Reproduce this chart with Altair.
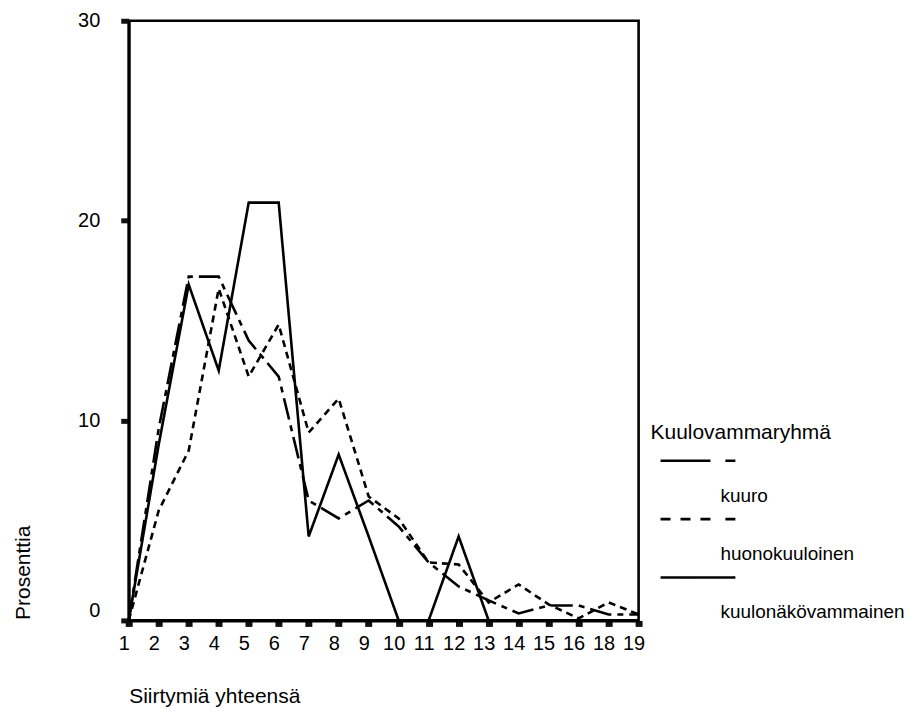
import altair as alt
import pandas as pd

# ---- data ----
categories = ["1", "2", "3", "4", "5", "6", "7", "8", "9", "10",
              "11", "12", "13", "14", "15", "16", "18", "19"]
series_names = ["kuuro", "huonokuuloinen", "kuulonäkövammainen"]
kuuro = [0, 9.6, 17.2, 17.2, 14.0, 12.2, 6.0, 5.1, 6.0, 4.7,
         2.9, 1.7, 1.0, 0.35, 0.75, 0.75, 0.3, 0.3]
huonokuuloinen = [0, 5.5, 8.5, 16.6, 12.2, 14.8, 9.4, 11.1, 6.2, 5.1,
                  2.9, 2.8, 0.9, 1.8, 0.8, 0.1, 0.9, 0.3]
kuulonakovammainen = [0, 8.8, 16.8, 12.5, 20.9, 20.9, 4.2, 8.3, 4.2, 0,
                      0, 4.2, 0, 0, 0, 0, 0, 0]
y_ticks = [0, 10, 20, 30]
x_title = "Siirtymiä yhteensä"
y_title = "Prosenttia"
legend_title = "Kuulovammaryhmä"

rows = []
for name, vals in zip(series_names, [kuuro, huonokuuloinen, kuulonakovammainen]):
    for c, v in zip(categories, vals):
        rows.append({"cat": c, "series": name, "value": v})
df = pd.DataFrame(rows)
leg_df = pd.DataFrame({"series": series_names})
title_df = pd.DataFrame({"t": [legend_title]})

FONT = "Liberation Sans"
line_dashes = [[22, 6, 6, 6], [7, 5], [1, 0]]
legend_dashes = [[50, 15, 10, 100], [10, 10, 10, 10, 10, 15, 10, 100], [1, 0]]

lines = alt.Chart(df).mark_line(color="black", strokeWidth=2.6, strokeCap="butt").encode(
    x=alt.X("cat:O", sort=categories,
            scale=alt.Scale(type="point", padding=0),
            axis=alt.Axis(title=x_title, labelAngle=0, domainWidth=3, domainColor="black",
                          tickSize=6, tickWidth=7, tickColor="#111",
                          labelFontSize=20, labelFont=FONT, labelColor="black",
                          labelPadding=7, labelOffset=-5,
                          titleFontSize=21, titleFont=FONT, titleFontWeight="normal",
                          titleColor="black", titleX=0, titleY=82,
                          titleAlign="left", titleBaseline="alphabetic")),
    y=alt.Y("value:Q", scale=alt.Scale(domain=[0, 30], nice=False, zero=True),
            axis=alt.Axis(values=y_ticks, grid=False, title=y_title,
                          domainWidth=3, domainColor="black",
                          tickSize=8, tickWidth=5, tickColor="#111",
                          labelFontSize=20, labelFont=FONT, labelColor="black",
                          labelPadding=21,
                          labelBaseline={"expr": "datum.value == 0 ? 'bottom' : 'middle'"},
                          titleFontSize=21, titleFont=FONT, titleFontWeight="normal",
                          titleColor="black", titleAngle=270, titleX=-99, titleY=600,
                          titleAlign="left", titleBaseline="alphabetic")),
    strokeDash=alt.StrokeDash("series:N",
                              scale=alt.Scale(domain=series_names, range=line_dashes),
                              legend=None),
    detail="series:N",
)

leg_y = alt.Y("series:N", scale=alt.Scale(type="point", domain=series_names,
                                          range=[441, 558], padding=0), axis=None)

leg_rules = alt.Chart(leg_df).mark_rule(color="black", strokeWidth=2.6, strokeCap="butt").encode(
    x=alt.value(533), x2=alt.value(608), y=leg_y,
    strokeDash=alt.StrokeDash("series:N",
                              scale=alt.Scale(domain=series_names, range=legend_dashes),
                              legend=None),
)

leg_labels = alt.Chart(leg_df).mark_text(align="left", baseline="middle", dy=35,
                                         font=FONT, fontSize=19, color="black").encode(
    x=alt.value(593), y=leg_y, text="series:N"
)

leg_title = alt.Chart(title_df).mark_text(align="left", baseline="middle",
                                          font=FONT, fontSize=21, color="black").encode(
    x=alt.value(523), y=alt.value(413), text="t:N"
)

chart = alt.layer(lines, leg_rules, leg_labels, leg_title).resolve_scale(
    y="independent", strokeDash="independent"
).properties(
    width=511, height=601,
    padding={"left": 121, "top": 12, "right": 268, "bottom": 90},
    autosize="none",
).configure_view(stroke="black", strokeWidth=2.6)

chart.save("out.html", embed_options={"renderer": "svg", "actions": False})
